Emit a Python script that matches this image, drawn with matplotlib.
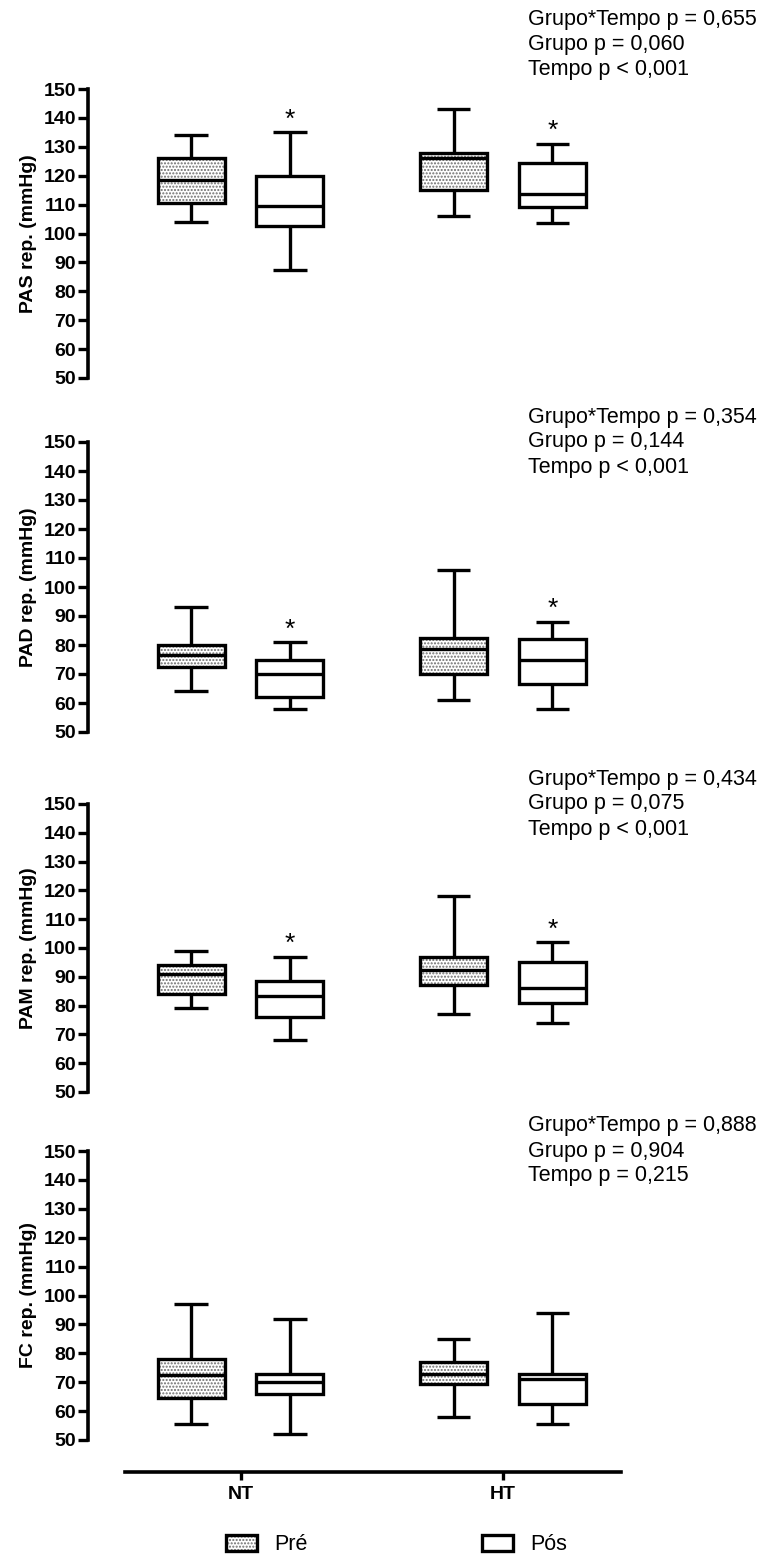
import numpy as np
import matplotlib
matplotlib.use("Agg")
import matplotlib.pyplot as plt
from matplotlib.patches import Patch, PathPatch

plt.rcParams['font.family'] = ['Liberation Sans', 'DejaVu Sans']

groups = ["NT", "HT"]
times = ["Pré", "Pós"]
ylabels = ["PAS rep. (mmHg)", "PAD rep. (mmHg)", "PAM rep. (mmHg)", "FC rep. (mmHg)"]

# box order in every panel: NT Pré, NT Pós, HT Pré, HT Pós
pas_lo = [104, 87.5, 106, 103.5]
pas_q1 = [110.5, 102.5, 115, 109]
pas_med = [118.5, 109.5, 126, 113.5]
pas_q3 = [126, 120, 128, 124.5]
pas_hi = [134, 135, 143, 131]

pad_lo = [64, 58, 61, 58]
pad_q1 = [72.5, 62, 70, 66.5]
pad_med = [76.5, 70, 78.5, 75]
pad_q3 = [80, 75, 82.5, 82]
pad_hi = [93, 81, 106, 88]

pam_lo = [79, 68, 77, 74]
pam_q1 = [84, 76, 87, 81]
pam_med = [91, 83.5, 92.5, 86]
pam_q3 = [94, 88.5, 97, 95]
pam_hi = [99, 97, 118, 102]

fc_lo = [55.5, 52, 58, 55.5]
fc_q1 = [64.5, 66, 69.5, 62.5]
fc_med = [72.5, 70, 73, 71]
fc_q3 = [78, 73, 77, 73]
fc_hi = [97, 92, 85, 94]

p_interacao = ["= 0,655", "= 0,354", "= 0,434", "= 0,888"]
p_grupo = ["= 0,060", "= 0,144", "= 0,075", "= 0,904"]
p_tempo = ["< 0,001", "< 0,001", "< 0,001", "= 0,215"]

stars = [[False, True, False, True],
         [False, True, False, True],
         [False, True, False, True],
         [False, False, False, False]]

panels = [(pas_lo, pas_q1, pas_med, pas_q3, pas_hi),
          (pad_lo, pad_q1, pad_med, pad_q3, pad_hi),
          (pam_lo, pam_q1, pam_med, pam_q3, pam_hi),
          (fc_lo, fc_q1, fc_med, fc_q3, fc_hi)]

# layout (pixels)
W, H = 762, 1556
px_per_unit = 262.5
x0_px = 240.5
off = 0.188
positions = [0 - off, 0 + off, 1 - off, 1 + off]
lw = 2.4
dot_color = "#6e6e6e"

ax_tops = [89, 442, 804, 1151]
ax_bots = [378, 732, 1092, 1440]
ax_left, ax_right = 88, 700
text_offsets = [[50, 32, 14], [18, 0, -18], [18, 0, -18], [18, 0, -18]]

def px2data(px):
    return (px - x0_px) / px_per_unit

fig = plt.figure(figsize=(W / 100, H / 100), dpi=100)

for k in range(4):
    top, bot = ax_tops[k], ax_bots[k]
    ax = fig.add_axes([ax_left / W, 1 - bot / H, (ax_right - ax_left) / W, (bot - top) / H])
    lo, q1, med, q3, hi = panels[k]
    stats = [dict(whislo=lo[i], q1=q1[i], med=med[i], q3=q3[i], whishi=hi[i]) for i in range(4)]
    res = ax.bxp(stats, positions=positions, widths=0.255, patch_artist=True, showfliers=False,
                 boxprops=dict(facecolor="white", edgecolor="black", linewidth=lw),
                 whiskerprops=dict(color="black", linewidth=lw, solid_capstyle="butt"),
                 capprops=dict(color="black", linewidth=lw, solid_capstyle="butt"),
                 medianprops=dict(color="black", linewidth=lw, zorder=4))
    for i, box in enumerate(res["boxes"]):
        if i % 2 == 0:
            box.set_edgecolor(dot_color)
            box.set_hatch(".....")
            box.set_linewidth(0)
            outline = PathPatch(box.get_path(), facecolor="none", edgecolor="black",
                                linewidth=lw, transform=box.get_transform(), zorder=3)
            ax.add_patch(outline)
        if stars[k][i]:
            ax.annotate("*", xy=(positions[i], hi[i]), xytext=(0, 4), textcoords="offset points",
                        ha="center", va="baseline", fontsize=19)

    ax.set_xlim(px2data(ax_left), px2data(ax_right))
    ax.set_ylim(50, 150)
    ax.set_yticks(np.arange(50, 151, 10))
    for t in ax.get_yticklabels():
        t.set_fontweight("bold")
    ax.set_xticks([])
    ax.tick_params(axis="y", width=lw, length=7, labelsize=14, pad=1.5)
    for s in ["top", "right", "bottom"]:
        ax.spines[s].set_visible(False)
    ax.spines["left"].set_linewidth(2.6)
    ax.set_ylabel(ylabels[k], fontsize=14, fontweight="bold", labelpad=5)
    ax.patch.set_alpha(0)

    lines = ["Grupo*Tempo p " + p_interacao[k], "Grupo p " + p_grupo[k], "Tempo p " + p_tempo[k]]
    for line, dy in zip(lines, text_offsets[k]):
        ax.annotate(line, xy=(px2data(528), 150), xytext=(0, dy), textcoords="offset points",
                    ha="left", va="center", fontsize=15.5, annotation_clip=False)

# shared x axis at the bottom
xl, xr, xy = 125, 621, 1472
axx = fig.add_axes([xl / W, 1 - xy / H, (xr - xl) / W, 0.001])
axx.set_xlim(px2data(xl), px2data(xr))
axx.set_xticks([0, 1])
axx.set_xticklabels(groups, fontweight="bold")
axx.set_yticks([])
axx.tick_params(axis="x", width=lw, length=6, labelsize=14, pad=4)
for s in ["top", "right", "left"]:
    axx.spines[s].set_visible(False)
axx.spines["bottom"].set_linewidth(2.6)
axx.patch.set_alpha(0)

# legend
pre_handle = (Patch(facecolor="white", edgecolor=dot_color, hatch=".....", linewidth=0),
              Patch(facecolor="none", edgecolor="black", linewidth=lw))
pos_handle = Patch(facecolor="white", edgecolor="black", linewidth=lw)
fig.legend([pre_handle, pos_handle], times, ncol=2, loc="center",
           bbox_to_anchor=(397 / W, 1 - 1545 / H), frameon=False, fontsize=15.5,
           handlelength=1.44, handleheight=0.74, handletextpad=0.8, columnspacing=8.1,
           borderpad=0, borderaxespad=0)

fig.savefig("out.png", dpi=100)
